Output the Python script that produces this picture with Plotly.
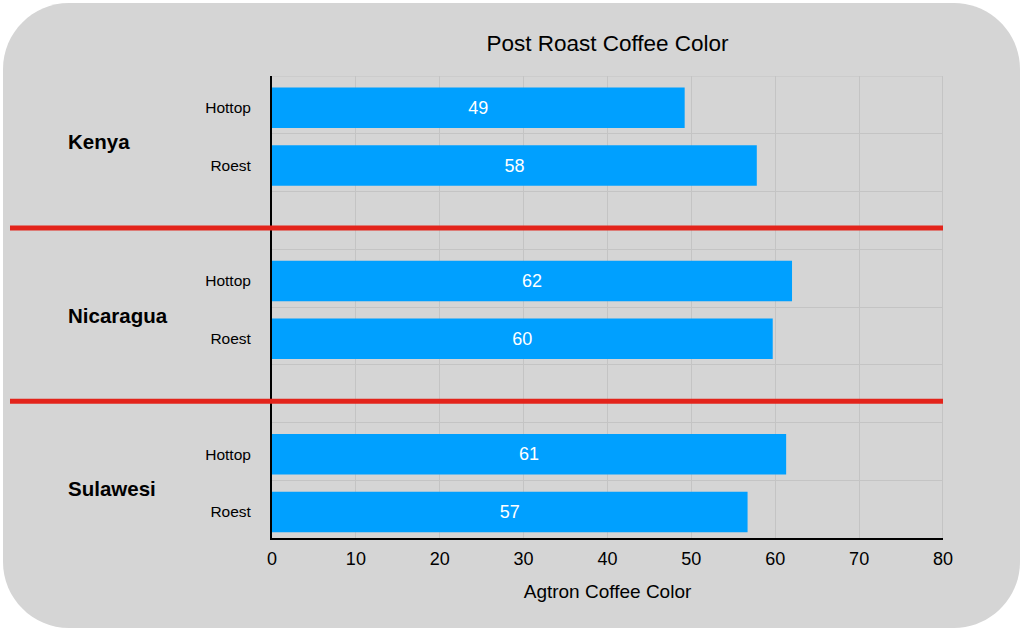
import plotly.graph_objects as go

# data
origins = ["Kenya", "Nicaragua", "Sulawesi"]
roasters = ["Hottop", "Roest"]
agtron = [
    [49.2, 57.8],   # Kenya
    [62.0, 59.7],   # Nicaragua
    [61.3, 56.7],   # Sulawesi
]
x_ticks = [0, 10, 20, 30, 40, 50, 60, 70, 80]

W, H = 1024, 632
BLUE = "#00a0ff"
RED = "#e3241b"
GREY_BG = "#d5d5d5"
GRID = "#c4c4c4"
FONT = "Liberation Sans, Arial, sans-serif"

# one slot per bar plus an empty slot between origins
slot = 3
ys, xs, labels, texts = [], [], [], []
for g, origin in enumerate(origins):
    for s, roaster in enumerate(roasters):
        ys.append(g * slot + s)
        xs.append(agtron[g][s])
        labels.append(roaster)
        texts.append(str(round(agtron[g][s])))
n_slots = len(origins) * slot - 1
nudge = 0.05  # bars sit a touch below their slot centre in the original


def px(x, y):
    return x / W, 1 - y / H


fig = go.Figure()
fig.add_trace(go.Bar(
    x=xs, y=ys, orientation="h", width=0.7, offset=-0.35 + nudge,
    marker=dict(color=BLUE, line=dict(width=0)),
    text=texts, textposition="inside", insidetextanchor="middle",
    textfont=dict(color="white", size=18, family=FONT),
    hoverinfo="x+y", showlegend=False,
))

# rounded grey card behind everything
l, t, r, b, rad = 3, 3, 1020, 628, 66
k = rad * 0.45
pts = [
    ("M", [(l + rad, t)]),
    ("L", [(r - rad, t)]),
    ("C", [(r - k, t), (r, t + k), (r, t + rad)]),
    ("L", [(r, b - rad)]),
    ("C", [(r, b - k), (r - k, b), (r - rad, b)]),
    ("L", [(l + rad, b)]),
    ("C", [(l + k, b), (l, b - k), (l, b - rad)]),
    ("L", [(l, t + rad)]),
    ("C", [(l, t + k), (l + k, t), (l + rad, t)]),
]
path = ""
for cmd, cs in pts:
    path += cmd + " " + " ".join("%.5f,%.5f" % px(*c) for c in cs) + " "
path += "Z"
shapes = [dict(type="path", path=path, xref="paper", yref="paper",
               fillcolor=GREY_BG, line=dict(width=0), layer="below")]

# grey frame on top and right of the plot area
shapes.append(dict(type="line", xref="x", yref="y",
                   x0=x_ticks[0], x1=x_ticks[-1], y0=-0.5, y1=-0.5,
                   line=dict(color=GRID, width=1), layer="below"))
shapes.append(dict(type="line", xref="x", yref="y",
                   x0=x_ticks[-1], x1=x_ticks[-1], y0=-0.5, y1=n_slots - 0.5,
                   line=dict(color=GRID, width=2), layer="below"))

# red separators between origins
for g in range(1, len(origins)):
    yv = g * slot - 1 + 0.13
    shapes.append(dict(type="line", xref="paper", yref="y",
                       x0=10 / W, x1=943 / W, y0=yv, y1=yv,
                       line=dict(color=RED, width=5), layer="above"))

annotations = []
for g, origin in enumerate(origins):
    annotations.append(dict(
        x=66 / W, xref="paper", xanchor="left",
        y=g * slot + 0.5, yref="y", yshift=-8,
        text="<b>" + origin + "</b>", showarrow=False,
        font=dict(size=20.5, color="black", family=FONT),
    ))

fig.update_layout(
    width=W, height=H, autosize=False,
    margin=dict(l=0, r=0, t=0, b=0, pad=0, autoexpand=False),
    paper_bgcolor="white", plot_bgcolor="white",
    font=dict(family=FONT, color="black"),
    title=dict(text="Post Roast Coffee Color", x=607.5 / W, xanchor="center",
               y=1 - 43 / H, yanchor="middle", font=dict(size=22.5),
               automargin=False),
    shapes=shapes, annotations=annotations,
    bargap=0.3, showlegend=False,
)
fig.update_xaxes(
    domain=[272 / W, 943 / W], range=[0, 80], automargin=False,
    tickvals=x_ticks, tickfont=dict(size=18),
    ticks="outside", ticklen=3, tickcolor="rgba(0,0,0,0)",
    showgrid=True, gridcolor=GRID, gridwidth=1,
    zeroline=False, showline=True, linecolor="black", linewidth=2,
    title=dict(text="Agtron Coffee Color", font=dict(size=19), standoff=17),
    fixedrange=True,
)
fig.update_yaxes(
    domain=[1 - 538 / H, 1 - 76 / H], range=[n_slots - 0.5, -0.5],
    automargin=False,
    tickvals=[y + nudge for y in ys], ticktext=labels, tickfont=dict(size=15.5),
    ticks="outside", ticklen=16, tickcolor="rgba(0,0,0,0)",
    showgrid=False, zeroline=False,
    showline=True, linecolor="black", linewidth=2,
    minor=dict(tickvals=[i - 0.5 for i in range(n_slots + 1)],
               showgrid=True, gridcolor=GRID, gridwidth=1, ticks=""),
    fixedrange=True,
)

fig.write_html("out.html", config={"displayModeBar": False},
               post_script="document.body.style.margin='0';")
